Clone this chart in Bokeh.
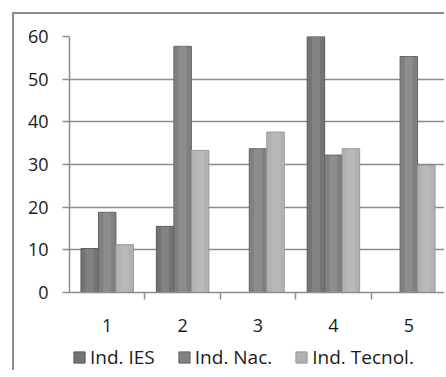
from bokeh.plotting import figure
from bokeh.models import FixedTicker, Legend, LegendItem, ColumnDataSource
from bokeh.layouts import column
from bokeh.transform import dodge
from bokeh.embed import file_html
from bokeh.resources import INLINE

categories = [1, 2, 3, 4, 5]
ind_ies = [10.3, 15.5, 0, 62, 0]
ind_nac = [18.8, 57.7, 33.7, 32.2, 55.3]
ind_tecnol = [11.2, 33.3, 37.6, 33.7, 29.8]
series_names = ["Ind. IES", "Ind. Nac.", "Ind. Tecnol."]
y_ticks = [0, 10, 20, 30, 40, 50, 60]

src = ColumnDataSource(dict(cat=categories, ies=ind_ies, nac=ind_nac, tec=ind_tecnol))

LINE = "linear-gradient(#8c8c8c,#8c8c8c)"

p = figure(width=444, height=342, output_backend="svg", toolbar_location=None,
           x_range=(0.5, 5.473), y_range=(0, 60),
           min_border_left=69, min_border_right=0, min_border_top=36, min_border_bottom=50,
           outline_line_color=None, background_fill_color="white", border_fill_alpha=0)
p.styles = {"background": f"{LINE} 12px 12px / 2px 100% no-repeat, {LINE} 12px 12px / 100% 2px no-repeat, white"}

bw = 0.232
colors = ["#747474", "#808080", "#b2b2b2"]
edges = ["#5a5a5a", "#646464", "#989898"]
fields = ["ies", "nac", "tec"]
offs = [-bw, 0, bw]
for f, o, c, e in zip(fields, offs, colors, edges):
    p.vbar(x=dodge("cat", o), top=f, width=bw, source=src, fill_color=c,
           line_color=e, line_width=1)
    # lighter centre band for the rounded look
    p.vbar(x=dodge("cat", o), top=f, width=bw * 0.45, source=src, fill_color="white",
           fill_alpha=0.1, line_color=None)

# axes
p.xaxis.ticker = FixedTicker(ticks=categories, minor_ticks=[1.5, 2.5, 3.5, 4.5, 5.5])
p.xaxis.major_tick_out = 0
p.xaxis.major_tick_in = 0
p.xaxis.minor_tick_out = 7
p.xaxis.minor_tick_in = 0
p.xaxis.minor_tick_line_color = "#8c8c8c"
p.xaxis.minor_tick_line_width = 1.5
p.xaxis.major_label_standoff = 19
p.xaxis.axis_line_color = "#8c8c8c"
p.xaxis.axis_line_width = 1.5

p.yaxis.ticker = FixedTicker(ticks=y_ticks)
p.yaxis.minor_tick_line_color = None
p.yaxis.major_tick_out = 7
p.yaxis.major_tick_in = 0
p.yaxis.major_tick_line_color = "#8c8c8c"
p.yaxis.major_tick_line_width = 1.5
p.yaxis.major_label_standoff = 14
p.yaxis.axis_line_color = "#8c8c8c"
p.yaxis.axis_line_width = 1.5

for ax in (p.xaxis, p.yaxis):
    ax.major_label_text_font = "Open Sans"
    ax.major_label_text_font_size = "18px"
    ax.major_label_text_color = "#1a1a1a"

p.xgrid.grid_line_color = None
p.ygrid.grid_line_color = "#8c8c8c"
p.ygrid.grid_line_width = 1.5

# legend strip below the chart (its bars fall outside its range, only the legend shows)
p2 = figure(width=444, height=28, output_backend="svg", toolbar_location=None,
            x_range=(-20, -19), y_range=(0, 1), min_border=0,
            outline_line_color=None, background_fill_alpha=0, border_fill_alpha=0)
p2.axis.visible = False
p2.grid.visible = False
p2.styles = {"background": f"{LINE} 12px 0px / 2px 100% no-repeat, white"}
leg_rs = []
for f, c, e in zip(fields, colors, edges):
    leg_rs.append(p2.vbar(x="cat", top=f, width=bw, source=src, fill_color=c,
                          line_color=e, line_width=1))

legend = Legend(items=[LegendItem(label=n, renderers=[r]) for n, r in zip(series_names, leg_rs)],
                orientation="horizontal", location=(3, 0),
                label_text_font="Open Sans", label_text_font_size="19px", label_text_color="#1a1a1a",
                glyph_width=14, glyph_height=14, label_standoff=4, spacing=22,
                padding=0, margin=0, border_line_alpha=0, background_fill_alpha=0)
p2.add_layout(legend, "center")

layout = column(p, p2)

open("out.html", "w").write(file_html(layout, INLINE))
